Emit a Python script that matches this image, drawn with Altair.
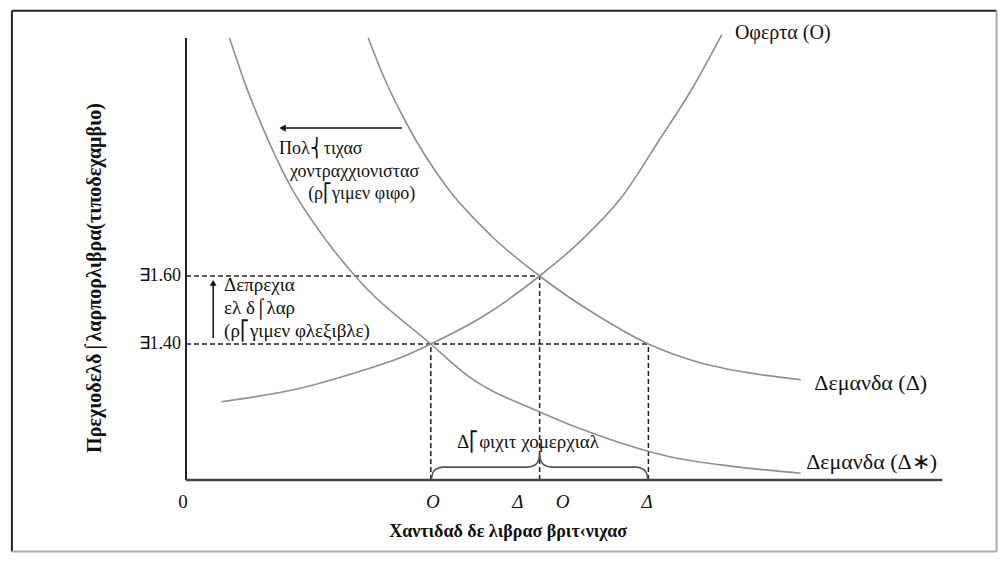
import altair as alt
import pandas as pd

# ---------------- data (x: quantity index, y: US$ per pound) ----------------
supply_q = [1.3, 4.2, 6.4, 7.9, 9.0, 10.9, 13.0, 14.6, 16.0, 17.4, 18.6, 19.7]
supply_p = [1.23, 1.27, 1.32, 1.36, 1.40, 1.48, 1.60, 1.71, 1.83, 2.00, 2.15, 2.31]

demand_q = [6.7, 7.3, 8.1, 9.6, 11.2, 13.0, 15.2, 17.0, 18.9, 20.7, 22.6]
demand_p = [2.30, 2.18, 2.05, 1.86, 1.72, 1.60, 1.48, 1.40, 1.345, 1.315, 1.295]

demand2_q = [1.6, 2.2, 2.8, 3.8, 5.2, 6.5, 9.0, 10.3, 13.0, 15.2, 17.7, 20.1, 22.6]
demand2_p = [2.30, 2.16, 2.04, 1.87, 1.70, 1.575, 1.40, 1.31, 1.20, 1.13, 1.07, 1.04, 1.02]

price_levels = [1.60, 1.40]
price_labels = ["∃1.60", "∃1.40"]
price_ends = [13.0, 17.0]

drop_q = [9.0, 13.0, 17.0]
drop_p = [1.40, 1.60, 1.40]

qty_label_q = [9.08, 12.2, 13.85, 16.95]
qty_labels = ["Ο", "Δ", "Ο", "Δ"]

brace_q = [9.02, 9.08, 9.2, 9.45, 12.55, 12.85, 12.97, 13.0, 13.03, 13.15, 13.45, 16.55, 16.8, 16.92, 16.98]
brace_p = [1.003, 1.022, 1.032, 1.038, 1.038, 1.045, 1.06, 1.078, 1.06, 1.045, 1.038, 1.038, 1.032, 1.022, 1.003]

curve_labels = ["Οφερτα (Ο)", "Δεμανδα (Δ)", "Δεμανδα (Δ∗)"]
curve_label_q = [20.18, 23.1, 22.8]
curve_label_p = [2.315, 1.285, 1.053]

policy_lines = ["Πολ⎨τιχασ", "χοντραχχιονιστασ", "(ρ⎡γιμεν φιφο)"]
policy_q = [3.42, 3.82, 4.49]
policy_p = [1.974, 1.906, 1.841]

deprec_lines = ["Δεπρεχια", "ελ δ⌠λαρ", "(ρ⎡γιμεν φλεξιβλε)"]
deprec_q = [1.4, 1.4, 1.4]
deprec_p = [1.574, 1.506, 1.438]

deficit_label = "Δ⎡φιχιτ χομερχιαλ"
deficit_q, deficit_p = 9.96, 1.112

x_title = "Χαντιδαδ δε λιβρασ βριτ‹νιχασ"
y_title = "Πρεχιοδελδ⌠λαρπορλιβρα(τιποδεχαμβιο)"

origin_q, origin_p = 0.0, 1.0
yaxis_top = 2.30
xaxis_end = 27.8

# ---------------- layout ----------------
W, H = 990, 546
PX_Q, PX_P = 27.2, 340.0          # pixels per unit
ax_x, ax_y = 178, 472              # axis origin inside plot area
xs = alt.Scale(domain=[-ax_x / PX_Q, (W - ax_x) / PX_Q], nice=False, zero=False)
ys = alt.Scale(domain=[1 - (H - ax_y) / PX_P, 1 + ax_y / PX_P], nice=False, zero=False)

FONT = "Liberation Serif"


def X(f="q"):
    return alt.X(f"{f}:Q", scale=xs, axis=None)


def Y(f="p"):
    return alt.Y(f"{f}:Q", scale=ys, axis=None)


def curve(qs, ps):
    df = pd.DataFrame({"q": qs, "p": ps})
    return alt.Chart(df).mark_line(interpolate="monotone", color="#8f8f8f", strokeWidth=1.6).encode(x=X(), y=Y())


layers = []

# frame
fq0, fq1 = -6.40, 29.8
fp0, fp1 = 0.79, 2.38
frame = pd.DataFrame({
    "q": [fq0, fq0, fq0, fq1], "q2": [fq0, fq1, fq1, fq1],
    "p": [fp0, fp1, fp0, fp0], "p2": [fp1, fp1, fp0, fp1],
    "c": ["#222", "#222", "#aaa", "#aaa"],
})
layers.append(alt.Chart(frame).mark_rule(strokeWidth=2).encode(
    x=X(), x2="q2:Q", y=Y(), y2="p2:Q", color=alt.Color("c:N", scale=None)))

# dashed guides
hd = pd.DataFrame({"q": [origin_q] * 2, "q2": price_ends, "p": price_levels})
layers.append(alt.Chart(hd).mark_rule(strokeDash=[5, 3], strokeWidth=1.5, color="#222").encode(
    x=X(), x2="q2:Q", y=Y()))
vd = pd.DataFrame({"q": drop_q, "p": [origin_p] * 3, "p2": drop_p})
layers.append(alt.Chart(vd).mark_rule(strokeDash=[5, 3], strokeWidth=1.5, color="#222").encode(
    x=X(), y=Y(), y2="p2:Q"))

# curves
layers += [curve(demand2_q, demand2_p), curve(demand_q, demand_p), curve(supply_q, supply_p)]

# brace
bdf = pd.DataFrame({"q": brace_q, "p": brace_p})
layers.append(alt.Chart(bdf).mark_line(interpolate="monotone", color="#555", strokeWidth=1.6).encode(x=X(), y=Y()))

# axes
ya = pd.DataFrame({"q": [origin_q], "p": [origin_p], "p2": [yaxis_top]})
layers.append(alt.Chart(ya).mark_rule(strokeWidth=2, color="#222").encode(x=X(), y=Y(), y2="p2:Q"))
xa = pd.DataFrame({"q": [origin_q], "q2": [xaxis_end], "p": [origin_p]})
layers.append(alt.Chart(xa).mark_rule(strokeWidth=2.5, color="#444").encode(x=X(), x2="q2:Q", y=Y()))

# arrows
ar1 = pd.DataFrame({"q": [7.94], "q2": [3.6], "p": [2.035]})
layers.append(alt.Chart(ar1).mark_rule(strokeWidth=1.5, color="#111").encode(x=X(), x2="q2:Q", y=Y()))
ah1 = pd.DataFrame({"q": [3.55], "p": [2.035]})
layers.append(alt.Chart(ah1).mark_point(shape="triangle-left", filled=True, size=55, color="#111", opacity=1).encode(x=X(), y=Y()))
ar2 = pd.DataFrame({"q": [1.0], "p": [1.418], "p2": [1.575]})
layers.append(alt.Chart(ar2).mark_rule(strokeWidth=1.5, color="#111").encode(x=X(), y=Y(), y2="p2:Q"))
ah2 = pd.DataFrame({"q": [1.0], "p": [1.58]})
layers.append(alt.Chart(ah2).mark_point(shape="triangle-up", filled=True, size=45, color="#111", opacity=1).encode(x=X(), y=Y()))


def texts(qs, ps, labels, **kw):
    df = pd.DataFrame({"q": qs, "p": ps, "label": labels})
    opts = dict(font=FONT, fontSize=19, color="#111", baseline="middle", align="left")
    opts.update(kw)
    return alt.Chart(df).mark_text(**opts).encode(x=X(), y=Y(), text="label:N")


layers.append(texts(curve_label_q[:1], curve_label_p[:1], curve_labels[:1], fontSize=20))
layers.append(texts(curve_label_q[1:], curve_label_p[1:], curve_labels[1:], fontSize=22))
layers.append(texts(policy_q, policy_p, policy_lines, fontSize=18))
layers.append(texts(deprec_q, deprec_p, deprec_lines, fontSize=19))
layers.append(texts([deficit_q], [deficit_p], [deficit_label], fontSize=19))
layers.append(texts([-0.18] * 2, price_levels, price_labels, fontSize=18, align="right"))
layers.append(texts([-0.11], [0.935], ["0"], fontSize=19, align="center"))
layers.append(texts(qty_label_q, [0.935] * 4, qty_labels, fontSize=19, align="center", fontStyle="italic"))
layers.append(texts([11.84], [0.847], [x_title], fontSize=18, align="center", fontWeight="bold"))
layers.append(texts([-3.35], [1.594], [y_title], fontSize=20, align="center", fontWeight="bold", angle=270))

chart = alt.layer(*layers).properties(
    width=W, height=H, padding=0, autosize=alt.AutoSizeParams(type="none"), background="white"
).configure_view(stroke=None)

chart.save("out.html", embed_options={"renderer": "svg", "actions": False})
